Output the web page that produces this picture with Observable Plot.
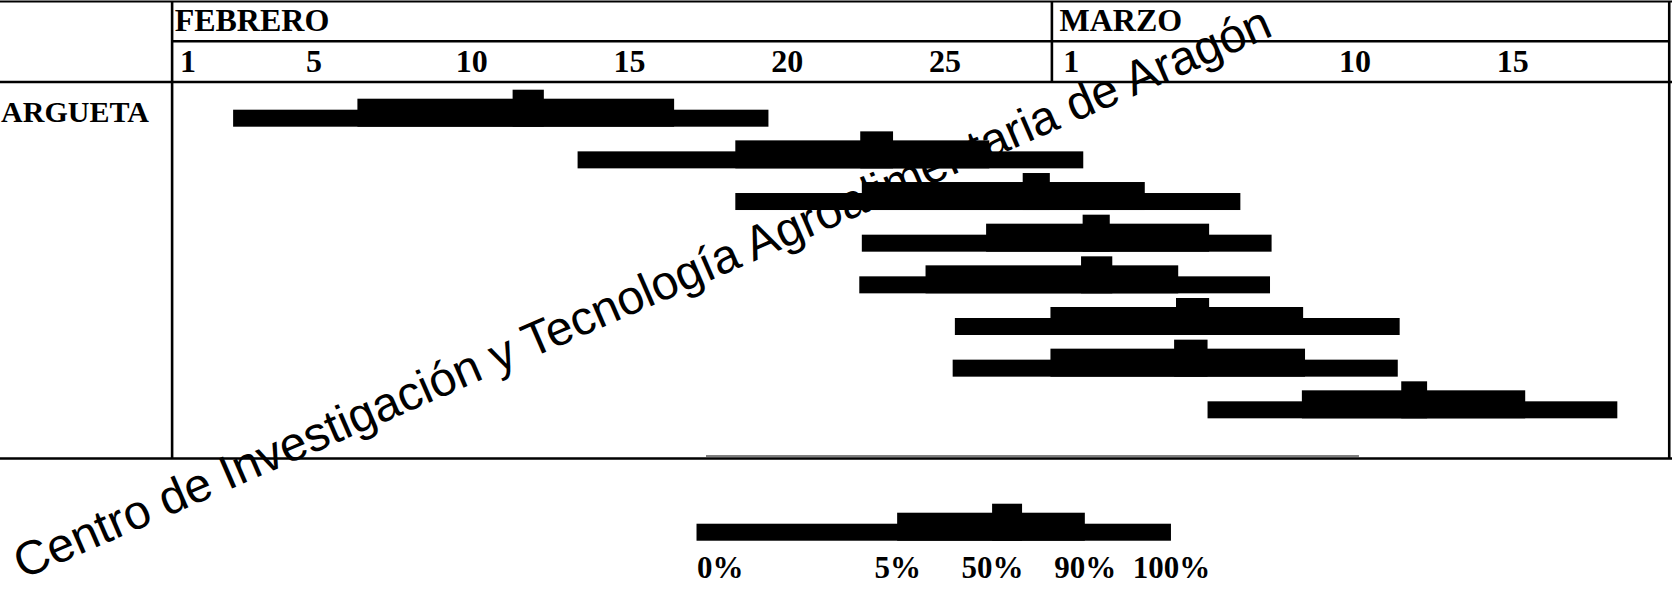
<!DOCTYPE html>
<html><head><meta charset="utf-8">
<script src="https://cdn.jsdelivr.net/npm/d3@7"></script>
<script src="https://cdn.jsdelivr.net/npm/@observablehq/plot@0.6"></script>
<style>html,body{margin:0;padding:0;background:#fff;overflow:hidden}</style>
</head><body><div id="chart"></div>
<script>
// Days counted from 1 February (1 March = day 29)
const rowLabels = ["ARGUETA", "", "", "", "", "", "", ""];
const rowIndex  = [1, 2, 3, 4, 5, 6, 7, 8];
const start = [2.45, 13.37, 18.37, 22.38, 22.30, 25.33, 25.26, 33.34]; // 0 %
const p5    = [6.39, 18.37, 22.38, 26.32, 24.40, 28.36, 28.36, 36.33]; // 5 %
const p50a  = [11.31, 22.33, 27.48, 29.38, 29.33, 32.34, 32.28, 39.48]; // 50 % (from)
const p50b  = [12.30, 23.37, 28.34, 30.24, 30.32, 33.39, 33.34, 40.30]; // 50 % (to)
const p90   = [16.43, 26.42, 31.35, 33.39, 32.41, 36.37, 36.43, 43.41]; // 90 %
const end   = [19.42, 29.40, 34.38, 35.37, 35.32, 39.43, 39.37, 46.33]; // 100 %

const dayTicks      = [1, 5, 10, 15, 20, 25, 29, 38, 43];
const dayTickLabels = ["1", "5", "10", "15", "20", "25", "1", "10", "15"];
const months        = ["FEBRERO", "MARZO"];
const monthLabelPos = [0.58, 28.63];

const legendLabels = ["0%", "5%", "50%", "90%", "100%"];
const legendBreaks = [17.14, 23.50, 26.51, 27.46, 29.45, 32.18]; // 0,5,50a,50b,90,100

const watermark = "Centro de Investigación y Tecnología Agroalimentaria de Aragón";

// layout (scale units)
const W = 1672, H = 591;
const xDomain = [-4.94, 48.0];
const yDomain = [-2.0413, 12.145];
const pxPerRow = H / (yDomain[1] - yDomain[0]);
const BASE = 17, MID = 28, PEAK = 37;         // bar heights in px
const leftColEdge = 0.5, monthSep = 28.39, rightEdge = 47.96;
const tableTop = -2.017, monthLine = -1.062, headerLine = -0.085, tableBottom = 8.952;
const monthBaseline = -1.304, dayBaseline = -0.32;
const legendRow = 10.938;

const bars = rowIndex.flatMap((r, i) => [
  {row: r, x1: start[i], x2: end[i], h: BASE},
  {row: r, x1: p5[i],    x2: p90[i], h: MID},
  {row: r, x1: p50a[i],  x2: p50b[i], h: PEAK}
]);
const [l0, l5, l50a, l50b, l90, l100] = legendBreaks;
bars.push(
  {row: legendRow, x1: l0,   x2: l100, h: BASE},
  {row: legendRow, x1: l5,   x2: l90,  h: MID},
  {row: legendRow, x1: l50a, x2: l50b, h: PEAK}
);
const legendPos = [l0, l5, l50a, l90, l100];

const serif = "'Liberation Serif', 'Times New Roman', serif";

const chart = Plot.plot({
  width: W, height: H, margin: 0,
  x: {domain: xDomain, range: [0, 1670], axis: null},
  y: {domain: yDomain, range: [0, H], axis: null},
  style: {fontFamily: serif, background: "white", color: "black"},
  marks: [
    Plot.rect(bars, {x1: "x1", x2: "x2", y1: d => d.row, y2: d => d.row - d.h / pxPerRow, fill: "black"}),
    // table lines
    Plot.ruleY([tableTop], {stroke: "black", strokeWidth: 2}),
    Plot.ruleY([headerLine, tableBottom], {stroke: "black", strokeWidth: 2.6}),
    Plot.ruleY([monthLine], {x1: leftColEdge, x2: rightEdge, stroke: "black", strokeWidth: 2.6}),
    Plot.ruleY([8.892], {x1: 17.44, x2: 38.14, stroke: "black", strokeWidth: 1.2}),
    Plot.ruleX([leftColEdge, rightEdge], {y1: tableTop, y2: tableBottom, stroke: "black", strokeWidth: 2.6}),
    Plot.ruleX([monthSep], {y1: tableTop, y2: headerLine, stroke: "black", strokeWidth: 2.6}),
    // header texts
    Plot.text(months, {x: (d, i) => monthLabelPos[i], y: monthBaseline, text: d => d,
      textAnchor: "start", lineAnchor: "bottom", fontSize: 32, fontWeight: "bold", fill: "black"}),
    Plot.text(dayTicks, {x: d => d, y: dayBaseline, text: (d, i) => dayTickLabels[i],
      textAnchor: "middle", lineAnchor: "bottom", fontSize: 32, fontWeight: "bold", fill: "black"}),
    // row labels
    Plot.text(rowIndex, {x: leftColEdge, dx: -171, y: d => d, dy: -5, text: (d, i) => rowLabels[i],
      textAnchor: "start", lineAnchor: "bottom", fontSize: 30, fontWeight: "bold", fill: "black"}),
    // legend labels
    Plot.text(legendLabels.slice(0, 1), {x: () => legendPos[0], y: legendRow, dy: 37, text: d => d,
      textAnchor: "start", lineAnchor: "bottom", fontSize: 31, fontWeight: "bold", fill: "black"}),
    Plot.text(legendLabels.slice(1), {x: (d, i) => legendPos[i + 1], y: legendRow, dy: 37, text: d => d,
      textAnchor: "middle", lineAnchor: "bottom", fontSize: 31, fontWeight: "bold", fill: "black"}),
    // watermark
    Plot.text([watermark], {frameAnchor: "bottom-left", dx: 22, dy: -12, text: d => d, rotate: -23.5,
      textAnchor: "start", lineAnchor: "bottom", fontSize: 48, fontFamily: "'Liberation Sans', Arial, sans-serif",
      fill: "black"})
  ]
});
document.getElementById("chart").appendChild(chart);
</script>
</body></html>
